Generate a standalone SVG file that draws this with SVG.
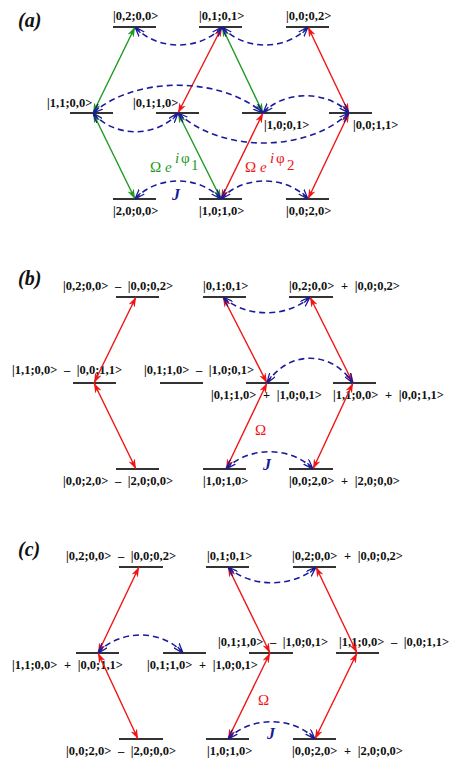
<svg xmlns="http://www.w3.org/2000/svg" width="453" height="771" viewBox="0 0 453 771">
<defs>
<style>
.lvl{stroke:#333;stroke-width:2}
.k{font-family:"Liberation Serif","Times New Roman",serif;font-weight:bold;font-size:12.5px;fill:#111}
.kk{font-family:"Liberation Serif","Times New Roman",serif;font-weight:bold;font-size:12.5px;fill:#111;word-spacing:3.5px}
.pl{font-family:"Liberation Serif","Times New Roman",serif;font-weight:bold;font-style:italic;font-size:20px;fill:#111}
.g{stroke:#1e9a1e;stroke-width:1.4;fill:none;marker-start:url(#ag);marker-end:url(#ag)}
.r{stroke:#f01414;stroke-width:1.4;fill:none;marker-start:url(#ar);marker-end:url(#ar)}
.b{stroke:#1a1a9c;stroke-width:1.6;fill:none;stroke-dasharray:6 4;marker-start:url(#ab);marker-end:url(#ab)}
.om{font-family:"Liberation Serif","Times New Roman",serif;font-size:15px}
.J{font-family:"Liberation Serif","Times New Roman",serif;font-weight:bold;font-style:italic;font-size:16px;fill:#1a1a9c}
</style>
<marker id="ag" viewBox="0 0 10 8" refX="10" refY="4" markerWidth="10" markerHeight="8" markerUnits="userSpaceOnUse" orient="auto-start-reverse"><path d="M0,0.5 L10,4 L0,7.5 L3,4 Z" fill="#1e9a1e"/></marker>
<marker id="ar" viewBox="0 0 10 8" refX="10" refY="4" markerWidth="10" markerHeight="8" markerUnits="userSpaceOnUse" orient="auto-start-reverse"><path d="M0,0.5 L10,4 L0,7.5 L3,4 Z" fill="#f01414"/></marker>
<marker id="ab" viewBox="0 0 10 8" refX="10" refY="4" markerWidth="10" markerHeight="8" markerUnits="userSpaceOnUse" orient="auto-start-reverse"><path d="M0,0.5 L10,4 L0,7.5 M2,4 L10,4" stroke="#1a1a9c" stroke-width="1.3" fill="none"/></marker>
</defs>
<rect width="453" height="771" fill="#fff"/>

<!-- Panel (a) -->
<text class="pl" x="18" y="27">(a)</text>
<g id="a-020"><line class="lvl" x1="113" y1="27" x2="156" y2="27"/><text class="k" x="113" y="20">|0,2;0,0&gt;</text></g>
<g id="a-011"><line class="lvl" x1="199" y1="27" x2="242" y2="27"/><text class="k" x="199" y="20">|0,1;0,1&gt;</text></g>
<g id="a-002"><line class="lvl" x1="286" y1="27" x2="329" y2="27"/><text class="k" x="286" y="20">|0,0;0,2&gt;</text></g>
<g id="a-110"><line class="lvl" x1="70" y1="113" x2="113" y2="113"/><text class="k" x="47" y="107">|1,1;0,0&gt;</text></g>
<g id="a-0110"><line class="lvl" x1="156" y1="113" x2="199" y2="113"/><text class="k" x="133" y="107">|0,1;1,0&gt;</text></g>
<g id="a-1001"><line class="lvl" x1="242" y1="113" x2="286" y2="113"/><text class="k" x="264" y="129">|1,0;0,1&gt;</text></g>
<g id="a-0011"><line class="lvl" x1="329" y1="113" x2="372" y2="113"/><text class="k" x="353" y="129">|0,0;1,1&gt;</text></g>
<g id="a-200"><line class="lvl" x1="113" y1="199" x2="156" y2="199"/><text class="k" x="113" y="215">|2,0;0,0&gt;</text></g>
<g id="a-1010"><line class="lvl" x1="199" y1="199" x2="242" y2="199"/><text class="k" x="199" y="215">|1,0;1,0&gt;</text></g>
<g id="a-0020"><line class="lvl" x1="286" y1="199" x2="329" y2="199"/><text class="k" x="286" y="215">|0,0;2,0&gt;</text></g>

<!-- Panel (b) -->
<text class="pl" x="18" y="285">(b)</text>
<g id="b-t1"><line class="lvl" x1="116" y1="297" x2="159" y2="297"/><text class="kk" x="63" y="290">|0,2;0,0&gt; – |0,0;0,2&gt;</text></g>
<g id="b-t2"><line class="lvl" x1="203" y1="297" x2="246" y2="297"/><text class="k" x="203" y="290">|0,1;0,1&gt;</text></g>
<g id="b-t3"><line class="lvl" x1="289" y1="297" x2="333" y2="297"/><text class="kk" x="289" y="290">|0,2;0,0&gt; + |0,0;0,2&gt;</text></g>
<g id="b-m1"><line class="lvl" x1="73" y1="383" x2="116" y2="383"/><text class="kk" x="12" y="374">|1,1;0,0&gt; – |0,0;1,1&gt;</text></g>
<g id="b-m2"><line class="lvl" x1="160" y1="383" x2="203" y2="383"/><text class="kk" x="144" y="374">|0,1;1,0&gt; – |1,0;0,1&gt;</text></g>
<g id="b-m3"><line class="lvl" x1="246" y1="383" x2="289" y2="383"/><text class="kk" x="211" y="399">|0,1;1,0&gt; + |1,0;0,1&gt;</text></g>
<g id="b-m4"><line class="lvl" x1="333" y1="383" x2="376" y2="383"/><text class="kk" x="333" y="399">|1,1;0,0&gt; + |0,0;1,1&gt;</text></g>
<g id="b-b1"><line class="lvl" x1="116" y1="469" x2="159" y2="469"/><text class="kk" x="63" y="485">|0,0;2,0&gt; – |2,0;0,0&gt;</text></g>
<g id="b-b2"><line class="lvl" x1="203" y1="469" x2="246" y2="469"/><text class="k" x="203" y="485">|1,0;1,0&gt;</text></g>
<g id="b-b3"><line class="lvl" x1="289" y1="469" x2="333" y2="469"/><text class="kk" x="289" y="485">|0,0;2,0&gt; + |2,0;0,0&gt;</text></g>

<!-- Panel (c) -->
<text class="pl" x="18" y="556">(c)</text>
<g id="c-t1"><line class="lvl" x1="119" y1="567" x2="163" y2="567"/><text class="kk" x="66" y="560">|0,2;0,0&gt; – |0,0;0,2&gt;</text></g>
<g id="c-t2"><line class="lvl" x1="206" y1="567" x2="249" y2="567"/><text class="k" x="207" y="560">|0,1;0,1&gt;</text></g>
<g id="c-t3"><line class="lvl" x1="293" y1="567" x2="336" y2="567"/><text class="kk" x="292" y="560">|0,2;0,0&gt; + |0,0;0,2&gt;</text></g>
<g id="c-m1"><line class="lvl" x1="76" y1="653" x2="119" y2="653"/><text class="kk" x="12" y="669">|1,1;0,0&gt; + |0,0;1,1&gt;</text></g>
<g id="c-m2"><line class="lvl" x1="163" y1="653" x2="206" y2="653"/><text class="kk" x="147" y="669">|0,1;1,0&gt; + |1,0;0,1&gt;</text></g>
<g id="c-m3"><line class="lvl" x1="249" y1="653" x2="293" y2="653"/><text class="kk" x="218" y="646">|0,1;1,0&gt; – |1,0;0,1&gt;</text></g>
<g id="c-m4"><line class="lvl" x1="336" y1="653" x2="379" y2="653"/><text class="kk" x="339" y="646">|1,1;0,0&gt; – |0,0;1,1&gt;</text></g>
<g id="c-b1"><line class="lvl" x1="119" y1="739" x2="163" y2="739"/><text class="kk" x="66" y="755">|0,0;2,0&gt; – |2,0;0,0&gt;</text></g>
<g id="c-b2"><line class="lvl" x1="206" y1="739" x2="249" y2="739"/><text class="k" x="207" y="755">|1,0;1,0&gt;</text></g>
<g id="c-b3"><line class="lvl" x1="293" y1="739" x2="336" y2="739"/><text class="kk" x="292" y="755">|0,0;2,0&gt; + |2,0;0,0&gt;</text></g>

<g id="connectors">
<!-- (a) green -->
<line class="g" x1="135" y1="27" x2="93" y2="113"/>
<line class="g" x1="222" y1="27" x2="263" y2="113"/>
<line class="g" x1="93" y1="113" x2="135" y2="199"/>
<line class="g" x1="178" y1="113" x2="221" y2="199"/>
<!-- (a) red -->
<line class="r" x1="222" y1="27" x2="178" y2="113"/>
<line class="r" x1="308" y1="27" x2="349" y2="113"/>
<line class="r" x1="263" y1="113" x2="221" y2="199"/>
<line class="r" x1="349" y1="113" x2="308" y2="199"/>
<!-- (a) blue -->
<path class="b" d="M135,27 C157,51 200,51 222,27"/>
<path class="b" d="M222,27 C244,51 286,51 308,27"/>
<path class="b" d="M93,113 C135,76 220,76 263,113"/>
<path class="b" d="M263,113 C284,90 327,90 349,113"/>
<path class="b" d="M93,113 C114,138 157,138 178,113"/>
<path class="b" d="M178,113 C221,153 306,153 349,113"/>
<path class="b" d="M135,199 C157,175 199,175 221,199"/>
<path class="b" d="M221,199 C243,175 286,175 308,199"/>
<!-- (b) -->
<line class="r" x1="136" y1="297" x2="94" y2="383"/>
<line class="r" x1="223" y1="297" x2="267" y2="383"/>
<line class="r" x1="310" y1="297" x2="353" y2="383"/>
<line class="r" x1="94" y1="383" x2="136" y2="469"/>
<line class="r" x1="267" y1="383" x2="226" y2="469"/>
<line class="r" x1="353" y1="383" x2="313" y2="469"/>
<path class="b" d="M223,297 C245,318 288,318 310,297"/>
<path class="b" d="M267,383 C289,350 331,350 353,383"/>
<path class="b" d="M226,469 C248,446 291,446 313,469"/>
<!-- (c) -->
<line class="r" x1="139" y1="567" x2="98" y2="653"/>
<line class="r" x1="228" y1="567" x2="270" y2="653"/>
<line class="r" x1="316" y1="567" x2="357" y2="653"/>
<line class="r" x1="98" y1="653" x2="138" y2="739"/>
<line class="r" x1="270" y1="653" x2="228" y2="739"/>
<line class="r" x1="357" y1="653" x2="315" y2="739"/>
<path class="b" d="M228,567 C250,588 294,588 316,567"/>
<path class="b" d="M98,653 C119,629 162,629 183,653"/>
<path class="b" d="M228,739 C250,716 293,716 315,739"/>
</g>

<!-- coupling labels -->
<g id="lbl-a-green" fill="#1e9a1e">
<text class="om" x="150" y="172">Ω <tspan font-style="italic">e</tspan></text>
<text class="om" x="175" y="163" font-style="italic" font-size="13">i</text>
<text class="om" x="181" y="163" font-size="14">φ</text>
<text class="om" x="191" y="170">1</text>
</g>
<g id="lbl-a-red" fill="#f01414">
<text class="om" x="245" y="172">Ω <tspan font-style="italic">e</tspan></text>
<text class="om" x="270" y="163" font-style="italic" font-size="13">i</text>
<text class="om" x="276" y="163" font-size="14">φ</text>
<text class="om" x="287" y="170">2</text>
</g>
<text class="J" x="172" y="200">J</text>
<text class="om" x="255" y="435" fill="#f01414" font-size="16">Ω</text>
<text class="J" x="263" y="470">J</text>
<text class="om" x="258" y="705" fill="#f01414" font-size="16">Ω</text>
<text class="J" x="267" y="739">J</text>
</svg>
